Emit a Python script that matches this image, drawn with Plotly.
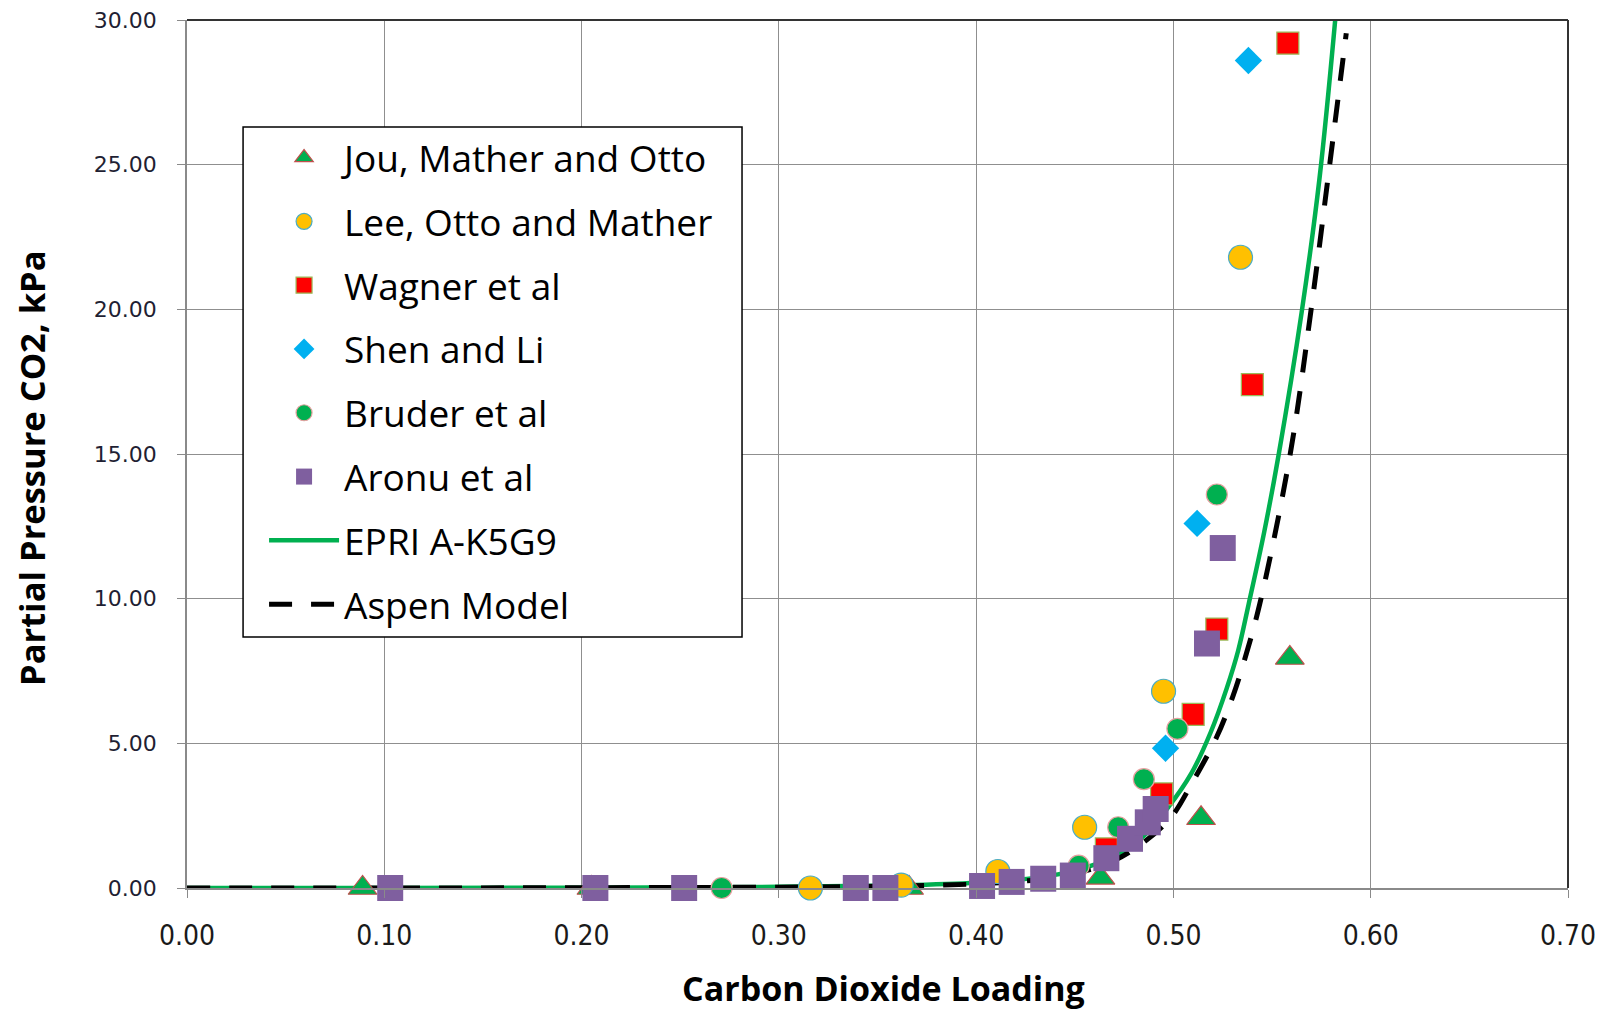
import plotly.graph_objects as go

# ---------------- data ----------------
jou_x = [0.089, 0.205, 0.366, 0.463, 0.514, 0.559]
jou_y = [0.0, 0.0, 0.0, 0.35, 2.41, 7.95]

lee_x = [0.316, 0.362, 0.411, 0.455, 0.495, 0.534]
lee_y = [0.0, 0.1, 0.57, 2.1, 6.8, 21.8]

wagner_x = [0.466, 0.494, 0.510, 0.522, 0.540, 0.558]
wagner_y = [1.35, 3.25, 6.0, 8.95, 17.4, 29.2]

shen_x = [0.496, 0.512, 0.538]
shen_y = [4.83, 12.6, 28.6]

bruder_x = [0.271, 0.452, 0.472, 0.485, 0.502, 0.522]
bruder_y = [0.0, 0.77, 2.1, 3.76, 5.5, 13.6]

aronu_x = [0.103, 0.207, 0.252, 0.339, 0.354, 0.403, 0.418, 0.434, 0.449,
           0.466, 0.478, 0.487, 0.491, 0.517, 0.525]
aronu_y = [0.0, 0.0, 0.0, 0.0, 0.0, 0.07, 0.21, 0.32, 0.43,
           1.03, 1.7, 2.27, 2.73, 8.45, 11.75]

epri_x = [0.0, 0.10, 0.20, 0.30, 0.36, 0.40, 0.43, 0.45, 0.47, 0.485, 0.4975,
          0.509, 0.519, 0.527, 0.5328, 0.5381, 0.546, 0.5534, 0.565, 0.574, 0.582]
epri_y = [0.0, 0.0, 0.01, 0.04, 0.09, 0.18, 0.35, 0.6, 1.1, 1.8, 2.8,
          3.95, 5.4, 6.9, 8.2, 9.8, 12.3, 15.0, 19.9, 24.5, 30.0]

aspen_x = [0.0, 0.10, 0.20, 0.30, 0.36, 0.40, 0.43, 0.45, 0.47, 0.4857, 0.4992,
           0.5092, 0.5218, 0.530, 0.5361, 0.5437, 0.5592, 0.5698, 0.5792, 0.5876]
aspen_y = [0.0, 0.0, 0.01, 0.03, 0.07, 0.14, 0.28, 0.5, 0.95, 1.62, 2.48,
           3.6, 5.2, 6.6, 7.9, 9.8, 15.0, 20.0, 25.0, 29.54]

x_ticks = [0.0, 0.1, 0.2, 0.3, 0.4, 0.5, 0.6, 0.7]
y_ticks = [0, 5, 10, 15, 20, 25, 30]

x_title = "Carbon Dioxide Loading"
y_title = "Partial Pressure CO2, kPa"

# ---------------- figure ----------------
fig = go.Figure()

fig.add_trace(go.Scatter(
    x=epri_x, y=epri_y, mode="lines", name="EPRI A-K5G9",
    line=dict(color="#00B050", width=4.5, shape="spline", smoothing=1.0),
    legendrank=7, legendgroup="g7", cliponaxis=False))
fig.add_trace(go.Scatter(
    x=aspen_x, y=aspen_y, mode="lines", name="Aspen Model",
    line=dict(color="#000000", width=5, dash="23px,19px", shape="spline", smoothing=1.0),
    legendrank=8, legendgroup="g8", cliponaxis=False))

def add_markers(x, y, name, symbol, size, fill, outline, lw, rank):
    fig.add_trace(go.Scatter(
        x=x, y=y, mode="markers", name=name,
        marker=dict(symbol=symbol, size=size, color=fill,
                    line=dict(color=outline, width=lw)),
        legendrank=rank, legendgroup="g%d" % rank, cliponaxis=False))

add_markers(jou_x, jou_y, "Jou, Mather and Otto", "triangle-up", 25, "#00B050", "#C0504D", 1.2, 1)
add_markers(lee_x, lee_y, "Lee, Otto and Mather", "circle", 24, "#FFC000", "#4BACC6", 1.2, 2)
add_markers(wagner_x, wagner_y, "Wagner et al", "square", 22, "#FF0000", "#9BBB59", 1.2, 3)
add_markers(shen_x, shen_y, "Shen and Li", "diamond", 21, "#00B0F0", "#00B0F0", 0, 4)
add_markers(bruder_x, bruder_y, "Bruder et al", "circle", 21, "#00B050", "#E6A0A0", 1.2, 5)
add_markers(aronu_x, aronu_y, "Aronu et al", "square", 26, "#7F5F9F", "#7F5F9F", 0, 6)

fig.update_layout(
    width=1604, height=1004,
    margin=dict(l=179, r=44, t=12, b=124),
    paper_bgcolor="white", plot_bgcolor="white",
    showlegend=True,
    legend=dict(
        x=0.0558, y=0.8767, xanchor="left", yanchor="top",
        bgcolor="rgba(0,0,0,0)", borderwidth=0,
        font=dict(family="Open Sans, Lato, sans-serif", size=37, color="#000000"),
        tracegroupgap=12.7, itemsizing="trace", itemwidth=70,
    ),
    xaxis=dict(
        range=[0, 0.7], tickvals=x_ticks, tickformat=".2f",
        showgrid=True, gridcolor="#8F8F8F", gridwidth=1.3,
        showline=True, linecolor="#8A8A8A", linewidth=1.5,
        zeroline=False,
        ticks="outside", ticklen=8, tickcolor="#8A8A8A", tickwidth=1.3,
        ticklabelstandoff=14, ticklabeloverflow="allow",
        tickfont=dict(family="DejaVu Sans Condensed, Liberation Sans Narrow, sans-serif",
                      size=28, color="#1A1A1A"),
        automargin=False,
    ),
    yaxis=dict(
        range=[0, 30], tickvals=y_ticks, tickformat=".2f",
        showgrid=True, gridcolor="#8F8F8F", gridwidth=1.3,
        showline=True, linecolor="#8A8A8A", linewidth=1.5,
        zeroline=False,
        ticks="outside", ticklen=8, tickcolor="#8A8A8A", tickwidth=1.3,
        ticklabelstandoff=16, ticklabeloverflow="allow",
        tickfont=dict(family="DejaVu Sans, Verdana, sans-serif", size=22, color="#1F1F33"),
        automargin=False,
    ),
    annotations=[
        dict(text="<b>%s</b>" % x_title, xref="paper", yref="paper",
             x=0.5044, y=-0.1152, xanchor="center", yanchor="middle", showarrow=False,
             font=dict(family="Open Sans, Lato, sans-serif", size=34, color="#000000")),
        dict(text="<b>%s</b>" % y_title, xref="paper", yref="paper",
             x=-0.1122, y=0.4839, xanchor="center", yanchor="middle", showarrow=False,
             textangle=-90,
             font=dict(family="Open Sans, Lato, sans-serif", size=34.5, color="#000000")),
    ],
    shapes=[
        dict(type="line", xref="paper", yref="paper", x0=0, x1=1, y0=1, y1=1,
             line=dict(color="#333333", width=2)),
        dict(type="line", xref="paper", yref="paper", x0=1, x1=1, y0=0, y1=1,
             line=dict(color="#333333", width=2)),
        dict(type="rect", xref="paper", yref="paper", layer="above",
             x0=0.0406, x1=0.4019, y0=0.2892, y1=0.8767,
             fillcolor="white", line=dict(color="#000000", width=1.5)),
    ],
)

fig.write_html("out.html")
